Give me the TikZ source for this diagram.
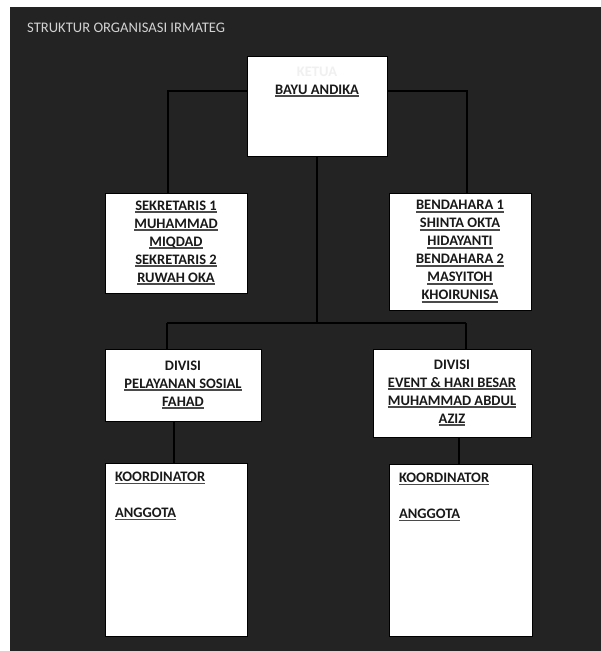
\documentclass[tikz,border=0pt]{standalone}
\usepackage{fontspec}
\setmainfont{Carlito}
\definecolor{panel}{HTML}{232323}
\definecolor{titlegray}{HTML}{D2D2D2}
\definecolor{ulgray}{HTML}{4A4A4A}
% underlined name, thick grey rule as in the scan
\newcommand{\uname}[1]{\setbox0\hbox{#1}\rlap{\textcolor{ulgray}{\rule[-2.6pt]{\wd0}{1.7pt}}}\box0}
\begin{document}
\begin{tikzpicture}[
		x=1pt, y=-1pt,
		every node/.style={font=\fontsize{14.5}{18}\selectfont\bfseries, align=center, text=black!90},
		box/.style={rectangle, draw=black, line width=0.8pt, fill=white},
		link/.style={draw=black, line width=1.4pt}
	]
	\useasboundingbox (0,0) rectangle (601,651);
	\fill[white] (0,0) rectangle (601,651);
	\fill[panel] (10,7) rectangle (601,651);

	\node[anchor=west, inner sep=0pt, font=\fontsize{14.6}{16}\selectfont, text=titlegray] (title) at (27,28) {STRUKTUR ORGANISASI IRMATEG};

	\node[box, minimum width=140pt, minimum height=100pt,
		label={[anchor=north, yshift=-8pt]north:{\textcolor{black!6}{KETUA}\\\uname{BAYU ANDIKA}}}] (ketua) at (317,106) {};
	\node[box, minimum width=142pt, minimum height=100pt] (sekre) at (176,243) {\uname{SEKRETARIS 1}\\\uname{MUHAMMAD}\\\uname{MIQDAD}\\\uname{SEKRETARIS 2}\\\uname{RUWAH OKA}};
	\node[box, minimum width=142pt, minimum height=117pt] (benda) at (460,251.5) {\uname{BENDAHARA 1}\\\uname{SHINTA OKTA}\\\uname{HIDAYANTI}\\\uname{BENDAHARA 2}\\\uname{MASYITOH}\\\uname{KHOIRUNISA}};
	\node[box, minimum width=156pt, minimum height=72pt] (divsos) at (183,385) {DIVISI\\\uname{PELAYANAN SOSIAL}\\\uname{FAHAD}};
	\node[box, minimum width=158pt, minimum height=88pt] (divevent) at (452,393) {DIVISI\\\uname{EVENT \& HARI BESAR}\\\uname{MUHAMMAD ABDUL}\\\uname{AZIZ}};
	\node[box, minimum width=142pt, minimum height=173pt,
		label={[anchor=north west, align=left, xshift=7pt, yshift=-6pt]north west:{\uname{KOORDINATOR}\\[18pt]\uname{ANGGOTA}}}] (koorsos) at (176,549.5) {};
	\node[box, minimum width=143pt, minimum height=172pt,
		label={[anchor=north west, align=left, xshift=7pt, yshift=-6pt]north west:{\uname{KOORDINATOR}\\[18pt]\uname{ANGGOTA}}}] (koorevent) at (460.5,550) {};

	% bend points of the tree
	\coordinate (kl) at (168,91);
	\coordinate (kr) at (467,91);
	\coordinate (hl) at (167,323);
	\coordinate (hr) at (466,323);

	\draw[link] (ketua.west |- kl) -- (kl) -- (kl |- sekre.north);
	\draw[link] (ketua.east |- kr) -- (kr) -- (kr |- benda.north);
	\draw[link] (ketua.south) -- (ketua.south |- hl);
	\draw[link] (hl) -- (hr);
	\draw[link] (hl) -- (hl |- divsos.north);
	\draw[link] (hr) -- (hr |- divevent.north);
	\draw[link] ([xshift=-2pt]koorsos.north |- divsos.south) -- ([xshift=-2pt]koorsos.north);
	\draw[link] ([xshift=-1.5pt]koorevent.north |- divevent.south) -- ([xshift=-1.5pt]koorevent.north);
\end{tikzpicture}
\end{document}
